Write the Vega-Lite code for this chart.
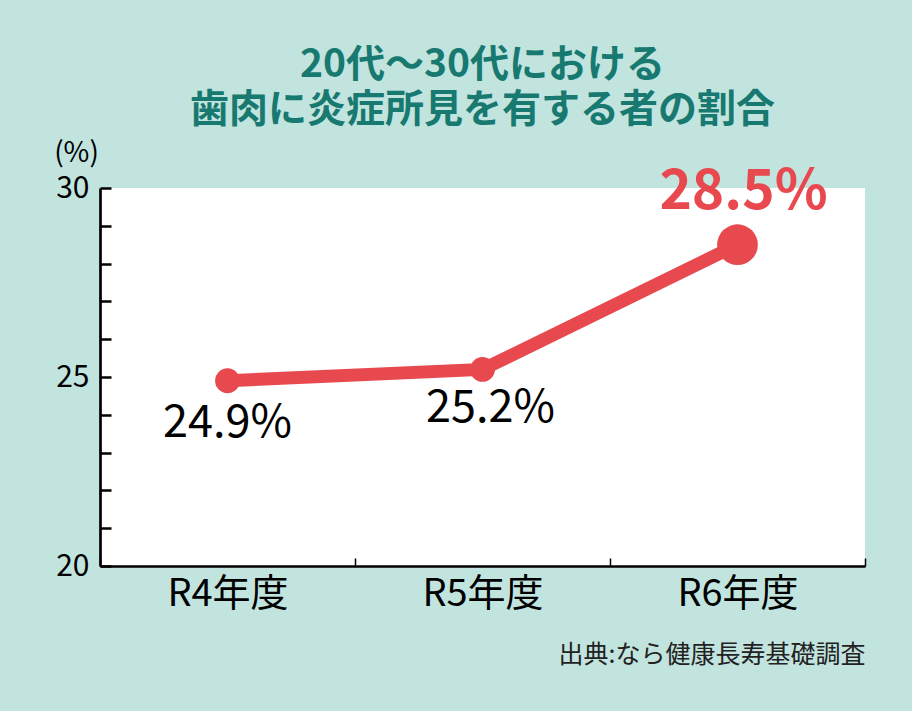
{
  "$schema": "https://vega.github.io/schema/vega-lite/v6.json",
  "width": 765,
  "height": 378,
  "autosize": "none",
  "padding": {"left": 100, "top": 188, "right": 47, "bottom": 145},
  "background": "#c2e4df",
  "view": {"fill": "white", "stroke": null},
  "title": {
    "text": ["20代～30代における", "歯肉に炎症所見を有する者の割合"],
    "font": "Noto Sans CJK JP",
    "fontSize": 39,
    "fontWeight": "bold",
    "color": "#17796f",
    "lineHeight": 45,
    "anchor": "middle",
    "offset": 9
  },
  "data": {
    "values": [
      {"year": "R4年度", "value": 24.9, "label": "24.9%"},
      {"year": "R5年度", "value": 25.2, "label": "25.2%"},
      {"year": "R6年度", "value": 28.5, "label": "28.5%"}
    ]
  },
  "encoding": {
    "x": {
      "field": "year",
      "type": "nominal",
      "sort": null,
      "scale": {"paddingInner": 0, "paddingOuter": 0},
      "axis": {
        "labelAngle": 0,
        "domainColor": "black",
        "domainWidth": 2.7,
        "ticks": true,
        "tickBand": "extent",
        "tickSize": -8,
        "tickColor": "black",
        "tickWidth": 1.5,
        "labelFont": "Noto Sans CJK JP",
        "labelFontSize": 38,
        "labelColor": "black",
        "labelPadding": 17,
        "title": "出典:なら健康長寿基礎調査",
        "titleAnchor": "end",
        "titleFont": "Noto Sans CJK JP",
        "titleFontSize": 25,
        "titleFontWeight": "normal",
        "titleColor": "#222222",
        "titlePadding": 29
      }
    },
    "y": {
      "field": "value",
      "type": "quantitative",
      "scale": {"domain": [20, 30], "nice": false, "zero": false},
      "axis": {
        "values": [20, 21, 22, 23, 24, 25, 26, 27, 28, 29, 30],
        "labelExpr": "datum.value % 5 === 0 ? datum.label : ''",
        "labelOverlap": false,
        "labelFlush": false,
        "grid": false,
        "tickSize": -11,
        "tickColor": "black",
        "tickWidth": 2.5,
        "domainColor": "black",
        "domainWidth": 2.7,
        "labelFont": "Noto Sans CJK JP",
        "labelFontSize": 30,
        "labelColor": "black",
        "labelPadding": 22,
        "title": "(%)",
        "titleAngle": 0,
        "titleX": -24,
        "titleY": -35,
        "titleAlign": "center",
        "titleBaseline": "middle",
        "titleFont": "Noto Sans CJK JP",
        "titleFontSize": 28,
        "titleFontWeight": "normal",
        "titleColor": "black"
      }
    }
  },
  "layer": [
    {"mark": {"type": "line", "color": "#e8494f", "strokeWidth": 13}},
    {
      "mark": {"type": "circle", "color": "#e8494f", "opacity": 1},
      "encoding": {
        "size": {"condition": {"test": "datum.year === 'R6年度'", "value": 1660}, "value": 616}
      }
    },
    {
      "transform": [{"filter": "datum.year === 'R4年度'"}],
      "mark": {"type": "text", "font": "Noto Sans CJK JP", "fontSize": 45, "color": "black", "baseline": "middle", "dx": 0, "dy": 42},
      "encoding": {"text": {"field": "label"}}
    },
    {
      "transform": [{"filter": "datum.year === 'R5年度'"}],
      "mark": {"type": "text", "font": "Noto Sans CJK JP", "fontSize": 45, "color": "black", "baseline": "middle", "dx": 8, "dy": 39},
      "encoding": {"text": {"field": "label"}}
    },
    {
      "transform": [{"filter": "datum.year === 'R6年度'"}],
      "mark": {"type": "text", "font": "Noto Sans CJK JP", "fontSize": 55, "fontWeight": "bold", "color": "#e8494f", "baseline": "middle", "dx": 6, "dy": -53},
      "encoding": {"text": {"field": "label"}}
    }
  ]
}
